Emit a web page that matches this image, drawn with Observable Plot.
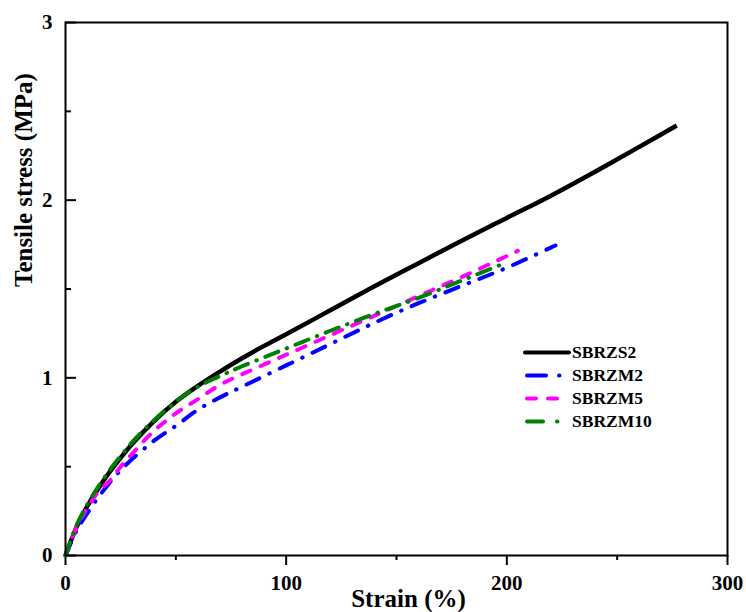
<!DOCTYPE html>
<html>
<head>
<meta charset="utf-8">
<script src="https://cdn.jsdelivr.net/npm/d3@7"></script>
<script src="https://cdn.jsdelivr.net/npm/@observablehq/plot@0.6"></script>
<style>
  body { margin: 0; background: #fff; }
  #chart { position: relative; width: 746px; height: 612px; }
</style>
</head>
<body>
<div id="chart"></div>
<script>
// ---- data ----
const seriesNames = ["SBRZS2", "SBRZM2", "SBRZM5", "SBRZM10"];
const seriesColors = ["#000000", "#0000ff", "#ff00ff", "#008000"];

const strainZS2 = [0, 5, 10, 15, 20, 25, 30, 40, 50, 60, 70, 80, 90, 100, 120, 140, 160, 180, 200, 220, 240, 260, 277];
const stressZS2 = [0, 0.16, 0.28, 0.38, 0.47, 0.55, 0.625, 0.755, 0.865, 0.955, 1.035, 1.11, 1.18, 1.245, 1.38, 1.515, 1.645, 1.775, 1.90, 2.025, 2.16, 2.30, 2.42];

const strainZM2 = [0, 5, 10, 15, 20, 25, 30, 40, 50, 60, 70, 80, 100, 120, 140, 160, 180, 200, 222];
const stressZM2 = [0, 0.14, 0.24, 0.33, 0.41, 0.48, 0.54, 0.645, 0.73, 0.82, 0.89, 0.95, 1.07, 1.19, 1.31, 1.42, 1.52, 1.62, 1.745];

const strainZM5 = [0, 5, 10, 15, 20, 25, 30, 40, 50, 60, 70, 80, 100, 120, 140, 160, 180, 205];
const stressZM5 = [0, 0.16, 0.27, 0.36, 0.42, 0.50, 0.57, 0.70, 0.80, 0.88, 0.96, 1.02, 1.13, 1.24, 1.35, 1.46, 1.57, 1.715];

const strainZM10 = [0, 5, 10, 15, 20, 25, 30, 40, 50, 60, 70, 80, 100, 120, 140, 160, 180, 199];
const stressZM10 = [0, 0.17, 0.29, 0.39, 0.48, 0.56, 0.635, 0.76, 0.865, 0.95, 1.01, 1.065, 1.165, 1.265, 1.36, 1.45, 1.55, 1.645];

const xTicks = [0, 100, 200, 300];
const xMinorTicks = [50, 150, 250];
const yTicks = [0, 1, 2, 3];
const yMinorTicks = [0.5, 1.5, 2.5];
const xTitle = "Strain (%)";
const yTitle = "Tensile stress (MPa)";

// ---- build table ----
function rows(name, xs, ys) { return xs.map((x, i) => ({series: name, strain: x, stress: ys[i]})); }
const dataZS2 = rows("SBRZS2", strainZS2, stressZS2);
const dataZM2 = rows("SBRZM2", strainZM2, stressZM2);
const dataZM5 = rows("SBRZM5", strainZM5, stressZM5);
const dataZM10 = rows("SBRZM10", strainZM10, stressZM10);

const dash = [null, "14,11,0.5,11", "9,11", "14,9,0.5,9"];

const font = "'Liberation Serif', 'Times New Roman', 'DejaVu Serif', serif";

const lineOpts = (d, i) => Plot.line(d, {
  x: "strain", y: "stress",
  stroke: seriesColors[i],
  strokeWidth: i === 0 ? 4.5 : 4,
  strokeDasharray: dash[i] || undefined,
  strokeLinecap: i === 0 ? "butt" : "round",
  strokeLinejoin: "round",
  curve: "catmull-rom"
});

const svg = Plot.plot({
  width: 746,
  height: 612,
  marginLeft: 65,
  marginRight: 19,
  marginTop: 22,
  marginBottom: 57,
  style: {fontFamily: font, fontWeight: "bold", fontSize: "21px", color: "#000", background: "#fff"},
  x: {domain: [0, 300]},
  y: {domain: [0, 3]},
  marks: [
    Plot.axisX({ticks: xTicks, tickFormat: d3.format("d"), tickSize: 10, tickPadding: 10, label: null, strokeWidth: 2, fontSize: 21}),
    Plot.axisX({ticks: xMinorTicks, tickSize: 5, text: null, label: null, strokeWidth: 2}),
    Plot.axisY({ticks: yTicks, tickFormat: d3.format("d"), tickSize: -11, tickPadding: 24, label: null, strokeWidth: 2, fontSize: 21}),
    Plot.axisY({ticks: yMinorTicks, tickSize: -6, text: null, label: null, strokeWidth: 2}),
    lineOpts(dataZS2, 0),
    lineOpts(dataZM2, 1),
    lineOpts(dataZM5, 2),
    lineOpts(dataZM10, 3),
    Plot.frame({stroke: "#000", strokeWidth: 2}),
    Plot.text([xTitle], {frameAnchor: "bottom", dy: 51, dx: 12, lineAnchor: "bottom", fontSize: 25, fontWeight: "bold"}),
    Plot.text([yTitle], {frameAnchor: "left", rotate: -90, dx: -42, dy: -2, lineAnchor: "middle", fontSize: 25, fontWeight: "bold"})
  ]
});

// ---- legend ----
const legendY = [352.5, 375.5, 398.5, 421.5];
const legendDash = [null, "19,13,0.5,13", "9,12", "16,14,0.5,14"];
const g = d3.select(svg).append("g").attr("class", "legend").attr("text-anchor", "start");
seriesNames.forEach((name, i) => {
  g.append("line")
    .attr("x1", i === 0 ? 525 : 527).attr("x2", i === 0 ? 569 : 567)
    .attr("y1", legendY[i]).attr("y2", legendY[i])
    .attr("stroke", seriesColors[i])
    .attr("stroke-width", 4)
    .attr("stroke-linecap", "round")
    .attr("stroke-dasharray", legendDash[i]);
  g.append("text")
    .attr("x", 572).attr("y", legendY[i])
    .attr("dy", "0.34em")
    .attr("text-anchor", "start")
    .attr("font-family", font)
    .attr("font-weight", "bold")
    .attr("font-size", 17.5)
    .attr("fill", "#000")
    .text(name);
});

document.getElementById("chart").appendChild(svg);
</script>
</body>
</html>
